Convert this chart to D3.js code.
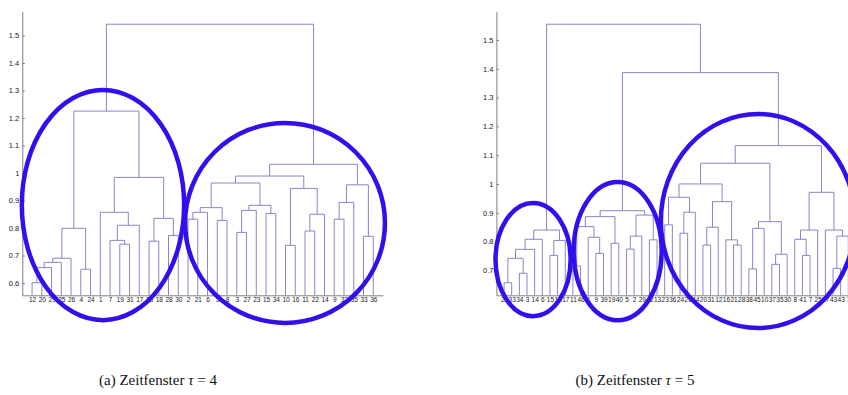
<!DOCTYPE html>
<html>
<head>
<meta charset="utf-8">
<script src="https://cdn.jsdelivr.net/npm/d3@7"></script>
<style>
body{margin:0;background:#fff;}
svg{display:block;}
.axis text{font-family:"Liberation Sans",Arial,sans-serif;fill:#222;}
.axis path,.axis line{stroke:#808080;stroke-width:1;}
.caption{font-family:"Liberation Serif","DejaVu Serif",serif;font-size:15px;fill:#111;}
</style>
</head>
<body>
<svg width="848" height="395"></svg>
<script>
// (a) tau = 4 : leaf labels in display order
var labelsA = ["12","20","29","25","26","4","24","1","7","19","31","17","13","18","28","30","2","21","6","5","8","3","27","23","15","34","10","16","11","22","14","9","32","35","33","36"];
// merges: [left, right, height]; ids < n are leaves, n+k is merge k
var linkA = [
  [0,1,0.601],[36,2,0.656],[37,3,0.675],[38,4,0.690],[5,6,0.650],[39,40,0.799],
  [9,10,0.741],[8,42,0.755],[43,11,0.810],[7,44,0.857],[12,13,0.752],[14,15,0.773],[46,47,0.835],[45,48,0.984],
  [41,49,1.225],
  [16,17,0.832],[51,18,0.857],[19,20,0.827],[52,53,0.874],[21,22,0.784],[55,23,0.864],[24,25,0.853],[56,57,0.8825],[54,58,0.9636],
  [26,27,0.737],[28,29,0.789],[61,30,0.850],[60,62,0.944],[59,63,0.989],
  [31,32,0.832],[65,33,0.893],[34,35,0.770],[66,67,0.957],[64,68,1.0316],
  [50,69,1.541]
];
var yTicksA = [0.6,0.7,0.8,0.9,1,1.1,1.2,1.3,1.4,1.5];

// (b) tau = 5
var labelsB = ["22","33","34","3","14","6","15","18","17","11","46","1","9","39","19","40","5","2","29","42","13","23","36","24","26","44","20","31","12","16","21","28","38","45","10","37","35","30","8","41","7","25","27","43","43","3"];
var linkB = [
  [0,1,0.657],[2,3,0.690],[46,47,0.742],[48,4,0.773],[49,5,0.808],[6,7,0.752],[51,8,0.804],[50,52,0.840],
  [9,10,0.715],[12,13,0.759],[11,55,0.815],[54,56,0.852],[14,15,0.794],[57,58,0.8866],
  [16,17,0.774],[60,18,0.819],[19,20,0.806],[61,62,0.892],[59,63,0.907],
  [21,22,0.858],[23,24,0.829],[66,25,0.902],[65,67,0.954],
  [26,27,0.788],[69,28,0.850],[30,31,0.788],[29,71,0.806],[70,72,0.9385],[68,73,1.0],
  [32,33,0.705],[75,34,0.846],[35,36,0.721],[77,37,0.756],[76,78,0.869],[74,79,1.072],
  [39,40,0.752],[38,81,0.808],[82,41,0.840],[43,44,0.707],[84,45,0.819],[42,85,0.840],[83,86,0.971],
  [80,87,1.133],
  [64,88,1.3866],
  [53,89,1.5545]
];
var yTicksB = [0.7,0.8,0.9,1,1.1,1.2,1.3,1.4,1.5];

// circled groups: leaf span (in leaf units) and value span
var ringsA = [{x0:-0.05,x1:16.6,top:1.302,bottom:0.465},{x0:16.7,x1:37.2,top:1.182,bottom:0.455}];
var ringsB = [{x0:-0.12,x1:9.7,top:0.934,bottom:0.541},{x0:10.1,x1:21.6,top:1.007,bottom:0.527},{x0:21.5,x1:46.9,top:1.243,bottom:0.5}];

var svg = d3.select("svg");

function dendro(id, labels, links, yTicks, xr, yDom, rings, caption, capX){
  var n = labels.length;
  var x = d3.scaleLinear().domain([0, n+1]).range(xr);
  var y = d3.scaleLinear().domain(yDom).range([295.3, 11.7]);
  var g = svg.append("g");

  g.append("clipPath").attr("id", "clip"+id)
    .append("rect").attr("x", xr[0]).attr("y", 11.7).attr("width", xr[1]-xr[0]).attr("height", 295.3-11.7);

  // node positions: leaves at 1..n, merges at the mean of their children
  var nx = [], nh = [];
  labels.forEach(function(d,i){ nx.push(i+1); nh.push(yDom[0]-1); });
  links.forEach(function(m){
    nx.push((nx[m[0]]+nx[m[1]])/2);
    nh.push(m[2]);
  });

  var line = d3.line().x(function(p){return x(p[0]);}).y(function(p){return y(p[1]);});
  g.append("g").attr("clip-path", "url(#clip"+id+")")
    .selectAll("path").data(links).enter().append("path")
      .attr("fill", "none")
      .attr("stroke", "#8785c8")
      .attr("stroke-width", 1)
      .attr("d", function(m){
        return line([[nx[m[0]], nh[m[0]]],[nx[m[0]], m[2]],[nx[m[1]], m[2]],[nx[m[1]], nh[m[1]]]]);
      });

  var ya = g.append("g").attr("class","axis").attr("transform","translate("+xr[0]+",0)")
    .call(d3.axisLeft(y).tickValues(yTicks).tickFormat(d3.format("~g")).tickSizeInner(-2.5).tickSizeOuter(0).tickPadding(3));
  ya.selectAll("text").style("font-size","7.5px");

  var xa = g.append("g").attr("class","axis").attr("transform","translate(0,295.3)")
    .call(d3.axisBottom(x).tickValues(d3.range(1, n+1)).tickFormat(function(d){return labels[d-1];}).tickSize(0).tickSizeOuter(0).tickPadding(2.5));
  xa.selectAll("text").style("font-size","6.5px");

  g.selectAll("ellipse").data(rings).enter().append("ellipse")
    .attr("cx", function(r){return (x(r.x0)+x(r.x1))/2;})
    .attr("cy", function(r){return (y(r.top)+y(r.bottom))/2;})
    .attr("rx", function(r){return (x(r.x1)-x(r.x0))/2;})
    .attr("ry", function(r){return (y(r.bottom)-y(r.top))/2;})
    .attr("fill", "none")
    .attr("stroke", "#3010ee")
    .attr("stroke-width", 4.5);

  var t = svg.append("text").attr("class","caption").attr("x", capX).attr("y", 385).attr("text-anchor","middle");
  t.append("tspan").text("(" + caption[0] + ") Zeitfenster ");
  t.append("tspan").attr("font-style","italic").text("\u03c4");
  t.append("tspan").text(" = " + caption[1]);
}

dendro("a", labelsA, linkA, yTicksA, [22.3, 383], [0.5553, 1.5865], ringsA, ["a","4"], 158);
dendro("b", labelsB, linkB, yTicksB, [496.4, 496.4 + 47*7.65], [0.6135, 1.598], ringsB, ["b","5"], 635);
</script>
</body>
</html>
